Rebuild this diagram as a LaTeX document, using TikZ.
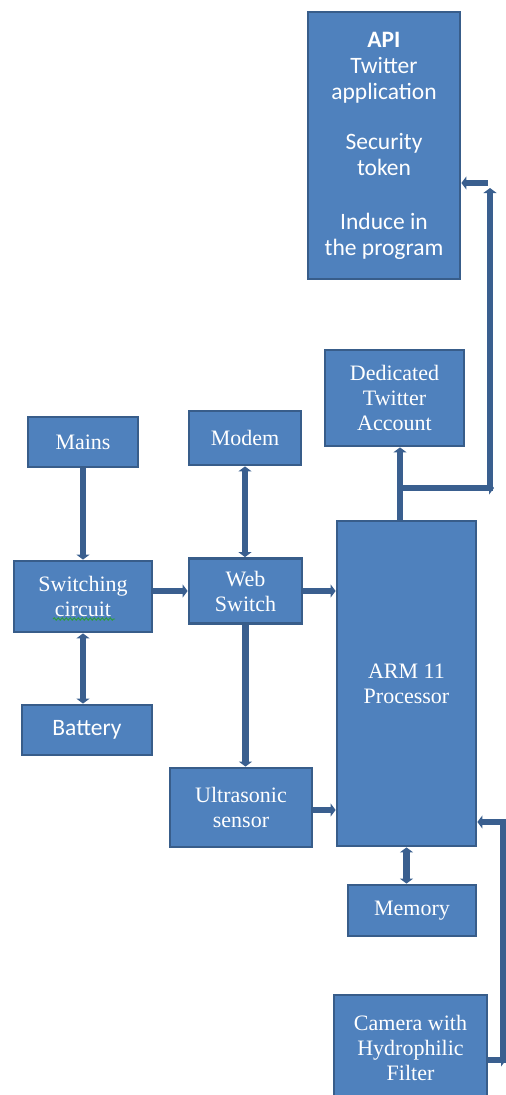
\documentclass[tikz,border=0pt]{standalone}
\usepackage{fontspec}
\setmainfont{Liberation Serif}
\newfontfamily\carl{Carlito}
\usetikzlibrary{arrows.meta,decorations.pathmorphing}
\definecolor{boxfill}{HTML}{4F81BD}
\definecolor{boxline}{HTML}{385D8A}
\definecolor{conncol}{HTML}{3A5F8F}
\definecolor{spell}{HTML}{2E9E3A}
\begin{document}
\begin{tikzpicture}[x=1pt,y=-1pt,
  blk/.style={draw=boxline, fill=boxfill, line width=2.8pt, inner sep=0pt,
    text=white, align=center, font=\fontsize{22}{25}\selectfont},
  sansblk/.style={blk, font=\carl\fontsize{23.5}{26}\selectfont},
  tip/.tip={Triangle[width=13pt,length=5pt]},
  conn/.style={draw=conncol, line width=6.5pt, -tip},
  both/.style={draw=conncol, line width=6.5pt, tip-tip},
  plain/.style={draw=conncol, line width=6.5pt}]
\useasboundingbox (0,0) rectangle (506,1095);
\clip (0,0) rectangle (506,1095);

% boxes
\node[sansblk, minimum width=152pt, minimum height=267pt] (api) at (384,145.5)
  {\textbf{API}\\Twitter\\application\\[24pt]Security\\token\\[28pt]Induce in\\the program};
\node[blk, minimum width=139pt, minimum height=96pt] (ded) at (394.5,398) {Dedicated\\Twitter\\Account};
\node[blk, minimum width=110pt, minimum height=50pt] (mains) at (83,442) {Mains};
\node[blk, minimum width=112pt, minimum height=54pt] (modem) at (245,438) {Modem};
\node[blk, minimum width=138pt, minimum height=71pt] (sw) at (83,596.5) {Switching\\circuit};
\node[blk, minimum width=113pt, minimum height=65pt] (web) at (245.5,591) {Web\\Switch};
\node[sansblk, minimum width=130pt, minimum height=50pt] (batt) at (87,730) {Battery};
\node[blk, minimum width=139pt, minimum height=325pt] (arm) at (406.5,683.5) {ARM 11\\Processor};
\node[blk, minimum width=142pt, minimum height=79pt] (ultra) at (241,807.5) {Ultrasonic\\sensor};
\node[blk, minimum width=128pt, minimum height=51pt] (mem) at (412,910.5) {Memory};
\node[blk, minimum width=153pt, minimum height=105pt] (cam) at (410.5,1047.5) {Camera with\\Hydrophilic\\Filter};

% spell-check underline
\draw[spell, line width=0.9pt, decorate, decoration={snake, amplitude=1.2pt, segment length=4pt}]
  (53,619) -- (115,619);

% connectors
\draw[conn] (mains) -- (sw);
\draw[both] (sw.south) -- (sw.south |- batt.north);
\draw[conn] (sw.east |- 0,591) -- (sw.east |- 0,591 -| web.west);
\draw[both] (modem.south) -- (modem.south |- web.north);
\draw[conn] (web.south) -- (web.south |- ultra.north);
\draw[conn] (web.east) -- (web.east -| arm.west);
\draw[conn] (ultra.east |- 0,810) -- (ultra.east |- 0,810 -| arm.west);
\draw[both] (arm.south) -- (arm.south |- mem.north);

\coordinate (j) at (400,488);
\coordinate (jr) at (494,488);
\coordinate (v0) at (490,491);
\coordinate (v1) at (490,188);
\coordinate (h0) at (488,183);
\draw[conn] (arm.north -| j) -- (ded.south -| j);
\draw[conn] (j) -- (jr);
\draw[conn] (v0) -- (v1);
\draw[conn] (h0) -- (h0 -| api.east);

\coordinate (c0) at (503,1060);
\coordinate (c1) at (503,822);
\coordinate (c2) at (506,1060);
\draw[conn] (c0 -| cam.east) -- (c2);
\draw[plain] (503,1063) -- (c1) -- ++(2,0);
\draw[conn] (506,822) -- (c1 -| arm.east);
\end{tikzpicture}
\end{document}
